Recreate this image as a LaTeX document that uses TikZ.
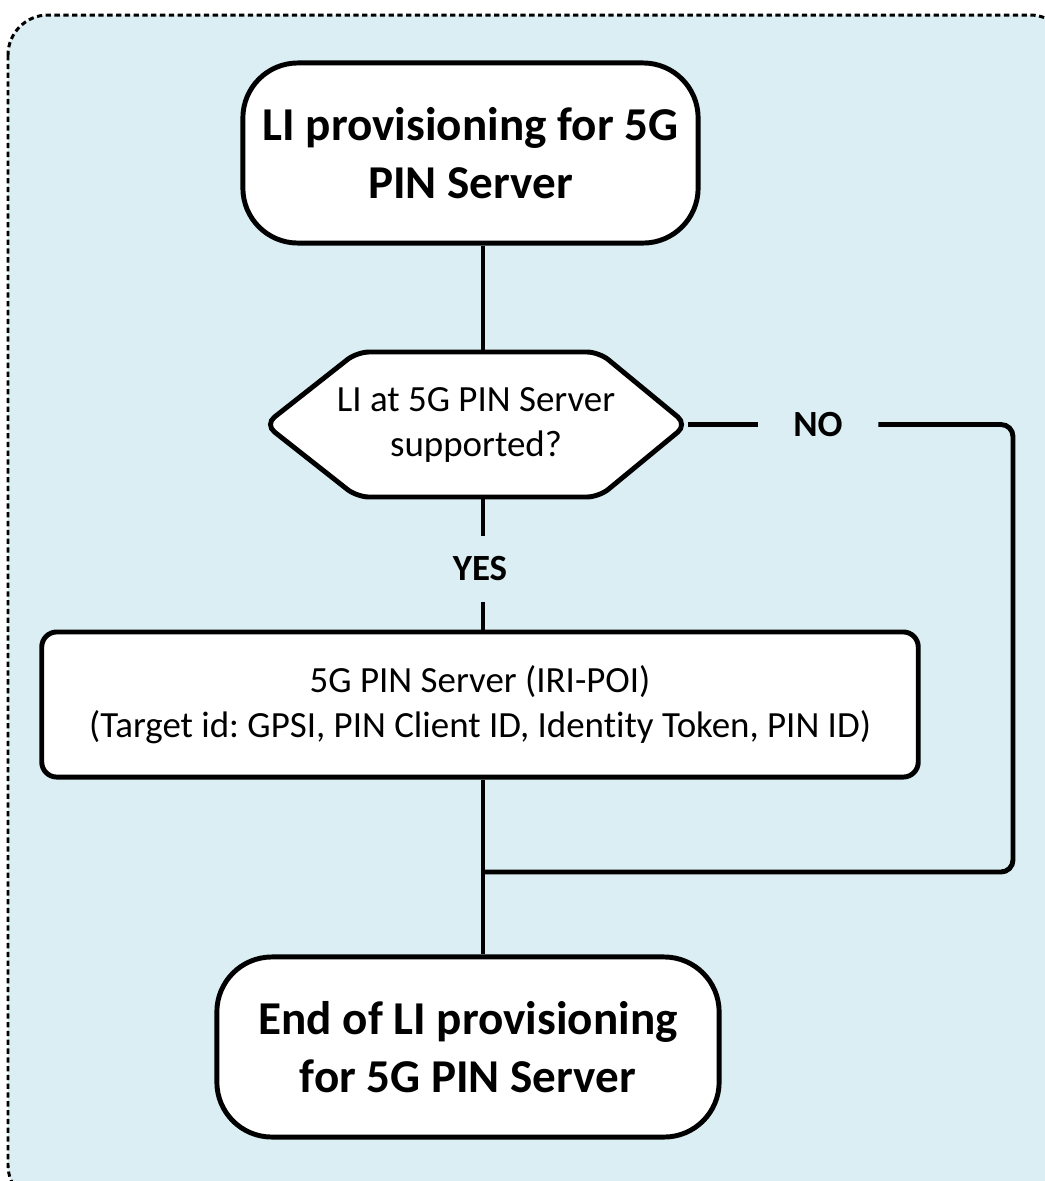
\documentclass[tikz,border=0pt]{standalone}
\usepackage{fontspec}
\setmainfont{Carlito}[Ligatures={NoCommon}]
\definecolor{paleblue}{HTML}{DAEEF3}
\frenchspacing

\begin{document}
\begin{tikzpicture}[x=0.01cm, y=-0.01cm,
        frame/.style={draw, fill=paleblue, line width=0.85pt, dash pattern=on 1.5pt off 1pt, rounded corners=0.4cm},
        termbox/.style={draw, line width=1.4pt, fill=white, rounded corners=0.55cm, minimum height=1.8cm, align=center, font=\fontsize{13.4}{16.4}\selectfont\bfseries},
        procbox/.style={draw, line width=1.4pt, fill=white, rounded corners=0.15cm, minimum width=8.76cm, minimum height=1.45cm, align=center, font=\fontsize{10.5}{12.8}\selectfont},
        hexline/.style={draw, line width=1.4pt, fill=white, rounded corners=0.12cm},
        asktext/.style={minimum width=4.22cm, minimum height=1.45cm, align=center, font=\fontsize{10.5}{12.8}\selectfont},
        answer/.style={font=\fontsize{10.5}{12.8}\selectfont\bfseries, inner xsep=0.35cm, inner ysep=0.2cm},
        link/.style={line width=1.4pt}]
    \useasboundingbox (0,0) rectangle (1045,1181);
    \clip (0,0) rectangle (1045,1181);
    \draw[frame] (8,15) rectangle (1070,1205);

    \node[termbox, minimum width=4.55cm] (start) at (470.5,153) {LI provisioning for 5G\\PIN Server};

    \draw[hexline] (265,424.5) -- (357,352) -- (599,352) -- (687,424.5) -- (599,497) -- (357,497) -- cycle;
    \node[asktext] (ask) at (476,424.5) {LI at 5G PIN Server\\supported?};

    \node[answer] (yes) at (480,569) {YES};
    \node[answer] (no) at (818,424.5) {NO};

    \node[procbox] (proc) at (480,704.5) {5G PIN Server (IRI-POI)\\(Target id: GPSI, PIN Client ID, Identity Token, PIN ID)};

    \node[termbox, minimum width=5.02cm] (finish) at (468,1047) {End of LI provisioning\\for 5G PIN Server};

    \coordinate (join) at (483,872);
    \coordinate (bend) at (1013,872);

    \draw[link] (start.south -| join) -- (ask.north -| join);
    \draw[link] (ask.south -| join) -- (yes.north -| join);
    \draw[link] (yes.south -| join) -- (proc.north -| join);
    \draw[link] (proc.south -| join) -- (finish.north -| join);
    \draw[link] (ask.east) -- (no.west);
    \draw[link, rounded corners=0.12cm] (no.east) -| (bend) -- (join);
\end{tikzpicture}
\end{document}
